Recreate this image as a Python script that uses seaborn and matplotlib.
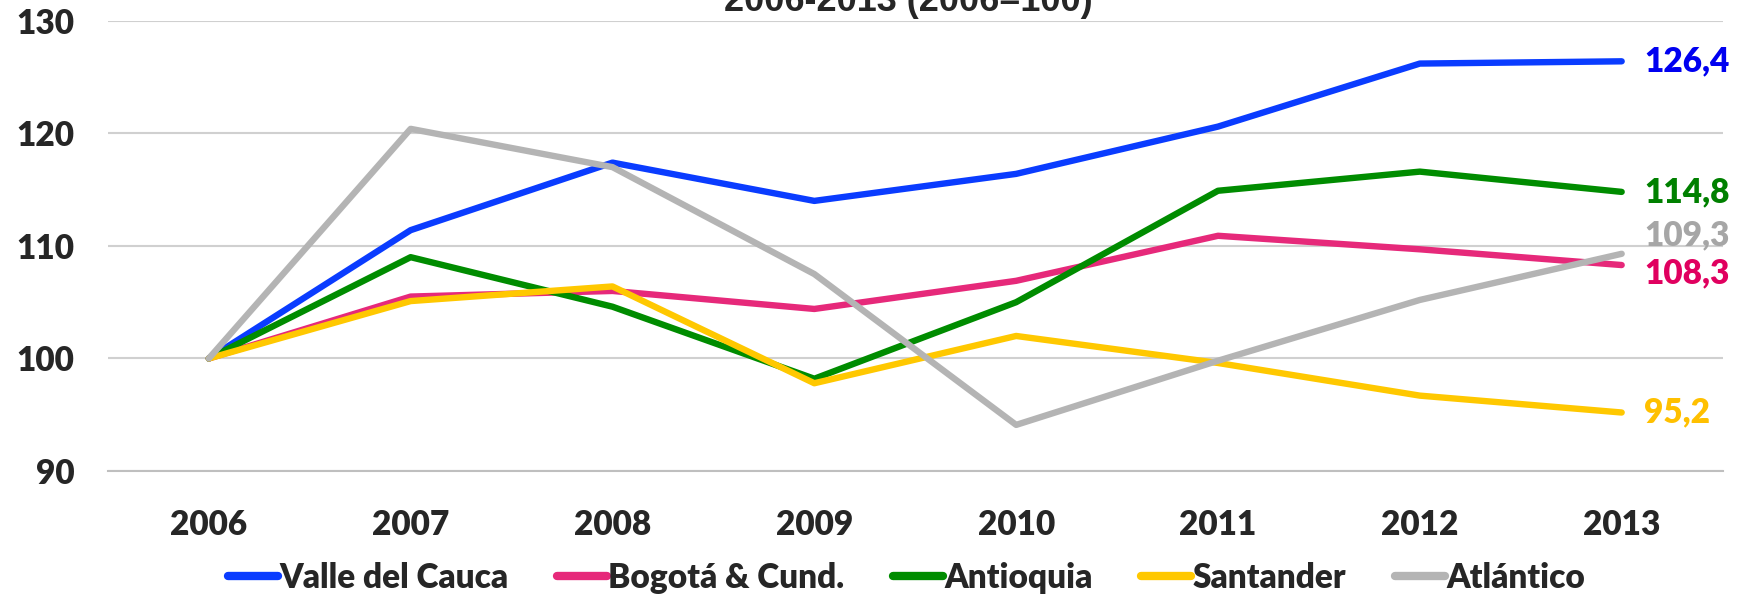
import matplotlib
matplotlib.use("Agg")
import matplotlib.pyplot as plt
import seaborn as sns
import pandas as pd
import numpy as np

years = ["2006", "2007", "2008", "2009", "2010", "2011", "2012", "2013"]
regions = ["Valle del Cauca", "Bogotá & Cund.", "Antioquia", "Santander", "Atlántico"]

valle = [100, 111.4, 117.4, 114.0, 116.4, 120.6, 126.2, 126.4]
bogota = [100, 105.5, 106.0, 104.4, 106.9, 110.9, 109.7, 108.3]
antioquia = [100, 109.0, 104.6, 98.2, 105.0, 114.9, 116.6, 114.8]
santander = [100, 105.1, 106.4, 97.8, 102.0, 99.6, 96.7, 95.2]
atlantico = [100, 120.4, 117.0, 107.5, 94.1, 99.8, 105.2, 109.3]

line_colors = ["#0A3CFF", "#E6297A", "#008C00", "#FFC800", "#B4B4B4"]
label_colors = ["#0000F0", "#E0005F", "#008000", "#FFC000", "#A6A6A6"]
# vertical nudges (points) for the end labels so they don't collide
label_nudge = [0, -6, 0, 0, 13]

series = [valle, bogota, antioquia, santander, atlantico]
df = pd.DataFrame({
    "pos": np.tile(np.arange(len(years)), len(regions)),
    "value": np.concatenate(series),
    "region": np.repeat(regions, len(years)),
})

sns.set_style("white")
plt.rcParams["font.family"] = ["Lato", "DejaVu Sans"]
plt.rcParams["font.weight"] = "heavy"

W = "heavy"

fig = plt.figure(figsize=(17.4, 5.94), dpi=100)
ax = fig.add_axes([0.062, 0.207, 0.928, 0.758])

sns.lineplot(data=df, x="pos", y="value", hue="region", hue_order=regions,
             palette=line_colors, linewidth=4.6, sort=False, ax=ax,
             solid_capstyle="round")

for vals, col, nudge in zip(series, label_colors, label_nudge):
    ax.annotate(f"{vals[-1]:.1f}".replace(".", ","),
                xy=(len(years) - 1, vals[-1]), xytext=(16, nudge),
                textcoords="offset points", va="center", ha="left",
                color=col, fontsize=24, fontweight=W,
                annotation_clip=False)

ax.set_xlim(-0.5, len(years) - 0.5)
ax.set_ylim(90, 130)
ax.set_yticks([90, 100, 110, 120, 130])
ax.set_xticks(np.arange(len(years)))
ax.set_xticklabels(years)
ax.set_xticks(np.arange(-0.5, len(years)), minor=True)
ax.set_xlabel("")
ax.set_ylabel("")

ax.grid(axis="y", color="#D0D0D0", linewidth=1.5)
ax.set_axisbelow(True)
for s in ["left", "right", "top"]:
    ax.spines[s].set_visible(False)
ax.spines["bottom"].set_color("#BFBFBF")
ax.spines["bottom"].set_linewidth(1.5)

ax.tick_params(axis="y", length=0, pad=24, labelsize=24)
ax.tick_params(axis="x", which="major", length=0, pad=27, labelsize=24)
ax.tick_params(axis="x", which="minor", length=8, width=1.5, color="#BFBFBF")
for t in ax.get_xticklabels() + ax.get_yticklabels():
    t.set_fontweight(W)

# title sits mostly above the canvas, as in the source image
fig.text(0.522, 1 - 11 / 594, "2006-2013 (2006=100)", ha="center", va="baseline",
         fontsize=26, fontweight="bold", family=["Liberation Sans", "DejaVu Sans"])

ax.get_legend().remove()
handles, labels = ax.get_legend_handles_labels()
for h in handles:
    h.set_linewidth(6)
    h.set_solid_capstyle("round")
fig.legend(handles, labels, loc="center", bbox_to_anchor=(0.521, 0.027), ncol=5,
           frameon=False, handlelength=1.5, handletextpad=0.05,
           columnspacing=1.45, prop={"weight": W, "size": 24})

fig.savefig("out.png", dpi=100)
